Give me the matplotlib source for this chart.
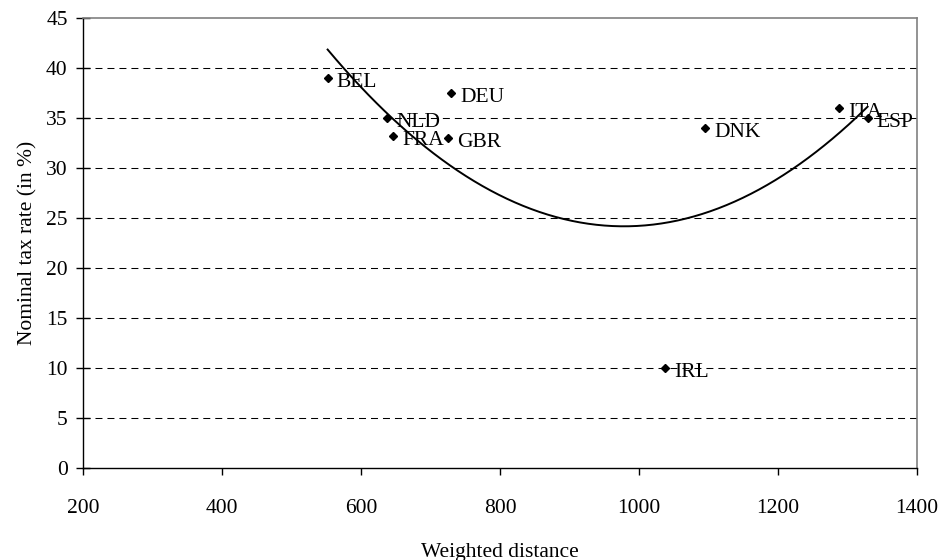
import numpy as np
import matplotlib
matplotlib.use('Agg')
import matplotlib.pyplot as plt

# Dados
paises = ['BEL', 'NLD', 'FRA', 'GBR', 'DEU', 'DNK', 'IRL', 'ITA', 'ESP']
distancia = [552, 638, 646, 725, 730, 1095, 1037, 1288, 1329]
imposto = [39, 35, 33.2, 33, 37.5, 34, 10, 36, 35]

plt.rcParams['font.family'] = ['Liberation Serif', 'DejaVu Serif']
plt.rcParams['font.size'] = 15.5

fig = plt.figure(figsize=(9.4, 5.6), dpi=100)
ax = fig.add_axes([0.0883, 0.1643, 0.8872, 0.8027])

# Linhas de grade tracejadas
for y in range(5, 45, 5):
    ax.axhline(y, color='black', lw=0.75, linestyle=(0, (6.7, 4.8)), zorder=1)

# Pontos e rotulos
ax.plot(distancia, imposto, linestyle='none', marker='D', ms=4.2, color='black', zorder=3)
for p, x, y in zip(paises, distancia, imposto):
    ax.annotate(p, (x, y), xytext=(6.5, -3), textcoords='offset points', va='center', ha='left')

# Linha de tendencia polinomial (ordem 2)
coef = np.polyfit(distancia, imposto, 2)
xs = np.linspace(min(distancia), max(distancia), 200)
ax.plot(xs, np.polyval(coef, xs), color='black', lw=1.4, zorder=2)

ax.set_xlim(200, 1400)
ax.set_ylim(0, 45)
ax.set_xticks(range(200, 1401, 200))
ax.set_yticks(range(0, 46, 5))
ax.tick_params(axis='x', direction='out', length=5, width=1, pad=17)
ax.tick_params(axis='y', direction='inout', length=10, width=1, pad=6)

for lado in ['top', 'right']:
    ax.spines[lado].set_color('#808080')
    ax.spines[lado].set_linewidth(1.2)
for lado in ['left', 'bottom']:
    ax.spines[lado].set_linewidth(1)

ax.set_xlabel('Weighted distance', labelpad=18)
ax.set_ylabel('Nominal tax rate (in %)', labelpad=6)

fig.savefig('out.png', dpi=100)
